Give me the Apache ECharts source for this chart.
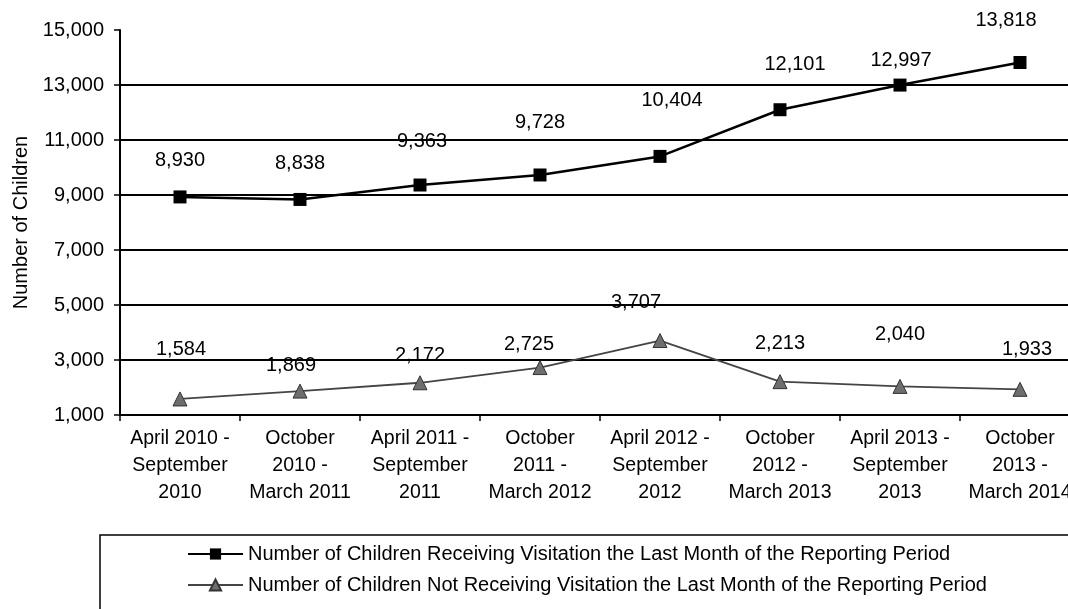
<!DOCTYPE html>
<html>
<head>
<meta charset="utf-8">
<script src="https://cdn.jsdelivr.net/npm/echarts@6/dist/echarts.min.js"></script>
<style>
html,body{margin:0;padding:0;background:#fff;}
#c{width:1068px;height:609px;}
</style>
</head>
<body>
<div id="c"></div>
<script>
var categories = [
  "April 2010 -\nSeptember\n2010",
  "October\n2010 -\nMarch 2011",
  "April 2011 -\nSeptember\n2011",
  "October\n2011 -\nMarch 2012",
  "April 2012 -\nSeptember\n2012",
  "October\n2012 -\nMarch 2013",
  "April 2013 -\nSeptember\n2013",
  "October\n2013 -\nMarch 2014"
];
var seriesNames = [
  "Number of Children Receiving Visitation the Last Month of the Reporting Period",
  "Number of Children Not Receiving Visitation the Last Month of the Reporting Period"
];
var receiving = [8930, 8838, 9363, 9728, 10404, 12101, 12997, 13818];
var notReceiving = [1584, 1869, 2172, 2725, 3707, 2213, 2040, 1933];
var yMin = 1000, yMax = 15000, yStep = 2000;

// label placement (layout only, not data)
var labelShift1 = [[0,-36],[0,-36],[2,-44],[0,-52],[12,-56],[15,-45],[1,-25],[-14,-42]];
var labelShift2 = [[1,-49],[-9,-26],[0,-27],[-11,-23],[-24,-38],[0,-38],[0,-52],[7,-40]];

var FONT = "'Liberation Sans', Arial, sans-serif";

function build(values, shifts) {
  return values.map(function (v, i) {
    return { value: v, label: { offset: shifts[i] } };
  });
}
function fmt(p) { return echarts.format.addCommas(p.value); }

var chart = echarts.init(document.getElementById('c'), null, { renderer: 'canvas' });
chart.setOption({
  animation: false,
  backgroundColor: '#fff',
  textStyle: { fontFamily: FONT, color: '#000' },
  grid: { left: 120, right: -12, top: 30, bottom: 194, containLabel: false, outerBoundsMode: 'none' },
  xAxis: {
    type: 'category',
    data: categories,
    boundaryGap: true,
    axisLine: { lineStyle: { color: '#000', width: 2 } },
    axisTick: { show: true, length: 6, inside: false, alignWithLabel: false, lineStyle: { color: '#000', width: 1.5 } },
    axisLabel: { color: '#000', fontSize: 19.5, fontFamily: FONT, lineHeight: 27, margin: 10, interval: 0 },
    splitLine: { show: false }
  },
  yAxis: {
    type: 'value',
    min: yMin, max: yMax, interval: yStep,
    name: 'Number of Children',
    nameLocation: 'middle',
    nameGap: 89,
    nameRotate: 90,
    nameTextStyle: { color: '#000', fontSize: 20, fontFamily: FONT },
    axisLine: { show: true, lineStyle: { color: '#000', width: 2 } },
    axisTick: { show: true, length: 6, lineStyle: { color: '#000', width: 1.5 } },
    axisLabel: { color: '#000', fontSize: 20, fontFamily: FONT, margin: 16,
      formatter: function (v) { return echarts.format.addCommas(v); } },
    splitLine: { show: true, showMaxLine: false, showMinLine: false, lineStyle: { color: '#000', width: 2 } }
  },
  legend: {
    orient: 'vertical',
    left: 187, top: 544,
    padding: 0,
    itemWidth: 55, itemHeight: 14, itemGap: 11,
    textStyle: { color: '#000', fontSize: 20, fontFamily: FONT, lineHeight: 20 },
    data: seriesNames
  },
  graphic: [{
    type: 'rect', z: 100, silent: true,
    shape: { x: 100, y: 535, width: 1000, height: 120 },
    style: { fill: 'none', stroke: '#000', lineWidth: 1.5 }
  }],
  series: [{
    name: seriesNames[0],
    type: 'line',
    data: build(receiving, labelShift1),
    symbol: 'rect', symbolSize: 13,
    itemStyle: { color: '#000' },
    lineStyle: { color: '#000', width: 2.5 },
    label: { show: true, position: 'inside', color: '#000', fontSize: 20, fontFamily: FONT, formatter: fmt },
    z: 5
  }, {
    name: seriesNames[1],
    type: 'line',
    data: build(notReceiving, labelShift2),
    symbol: 'triangle', symbolSize: 14,
    itemStyle: { color: '#6e6e6e', borderColor: '#333', borderWidth: 1 },
    lineStyle: { color: '#444', width: 1.8 },
    label: { show: true, position: 'inside', color: '#000', fontSize: 20, fontFamily: FONT, formatter: fmt },
    z: 4
  }]
});
</script>
</body>
</html>
